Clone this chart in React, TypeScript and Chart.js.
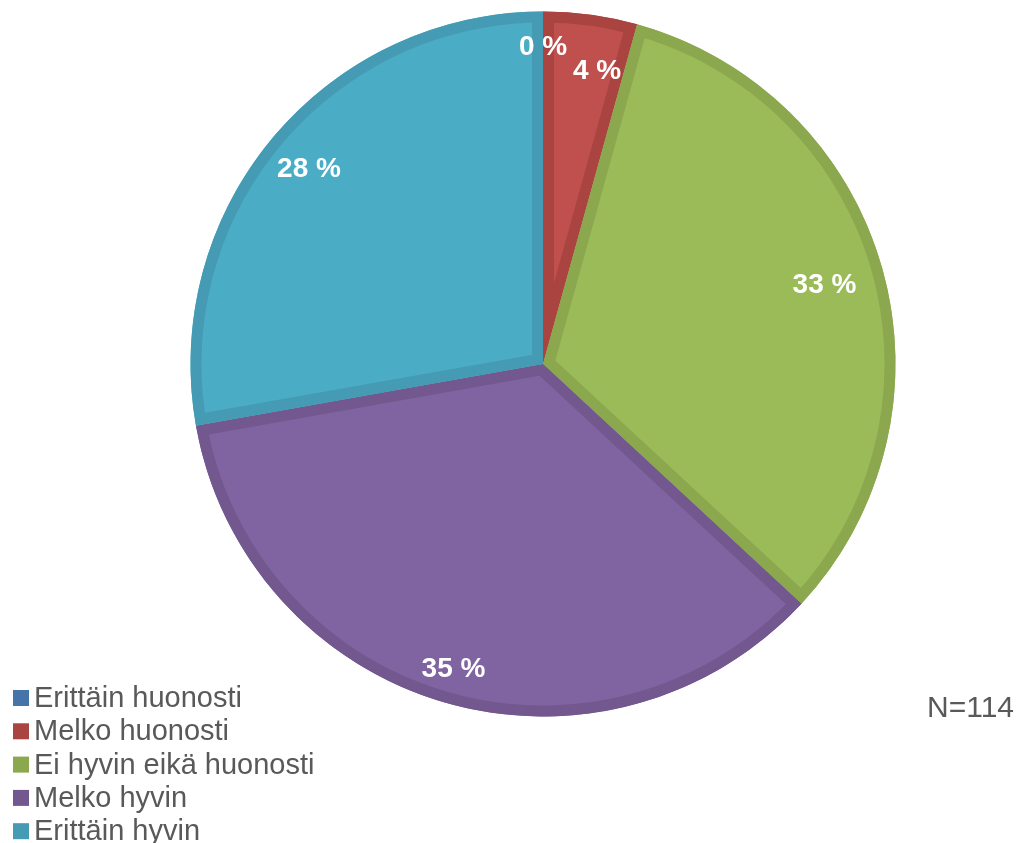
import React, { useEffect, useRef } from "react";
import { Chart, registerables } from "chart.js";

Chart.register(...registerables);

const categories = [
  "Erittäin huonosti",
  "Melko huonosti",
  "Ei hyvin eikä huonosti",
  "Melko hyvin",
  "Erittäin hyvin",
];
const shares = [0, 4.3, 32.6, 35.3, 27.8];
const sampleNote = "N=114";

const fillColors = ["#4F81BD", "#C0504D", "#9BBB59", "#8064A2", "#4BACC6"];
const edgeColors = ["#4673A8", "#AA4441", "#8BA84F", "#72588F", "#449BB3"];
const labelRadiusFactor = [0.9, 0.847, 0.83, 0.9, 0.866];
const labelAngleNudgeDeg = [0, 2.7, 0, 0, 0];

const FONT = '"Liberation Sans", Arial, sans-serif';
const W = 1023;
const H = 843;
const CX = 543;
const CY = 364;
const R = 352.5;
const BW = 11;

const innerBorders = {
  id: "innerBorders",
  afterDatasetsDraw(chart: any) {
    const ctx = chart.ctx;
    const meta = chart.getDatasetMeta(0);
    meta.data.forEach((arc: any, i: number) => {
      const p = arc.getProps(["x", "y", "startAngle", "endAngle", "outerRadius"], true);
      if (p.endAngle - p.startAngle <= 0.0001) return;
      ctx.save();
      ctx.beginPath();
      ctx.moveTo(p.x, p.y);
      ctx.arc(p.x, p.y, p.outerRadius, p.startAngle, p.endAngle);
      ctx.closePath();
      ctx.clip();
      ctx.lineWidth = BW * 2;
      ctx.lineJoin = "miter";
      ctx.miterLimit = 20;
      ctx.strokeStyle = edgeColors[i];
      ctx.stroke();
      ctx.restore();
    });
  },
};

const overlay = {
  id: "overlay",
  afterDraw(chart: any) {
    const ctx = chart.ctx;
    const meta = chart.getDatasetMeta(0);
    const total = shares.reduce((a, b) => a + b, 0);
    ctx.save();
    ctx.fillStyle = "#FFFFFF";
    ctx.font = `bold 28px ${FONT}`;
    ctx.textAlign = "center";
    ctx.textBaseline = "middle";
    meta.data.forEach((arc: any, i: number) => {
      const p = arc.getProps(["x", "y", "startAngle", "endAngle", "outerRadius"], true);
      const mid = (p.startAngle + p.endAngle) / 2 + (labelAngleNudgeDeg[i] * Math.PI) / 180;
      const r = p.outerRadius * labelRadiusFactor[i];
      const x = p.x + Math.cos(mid) * r;
      const y = p.y + Math.sin(mid) * r;
      const pct = Math.round((shares[i] / total) * 100);
      ctx.fillText(`${pct} %`, x, y + 1);
    });

    // legend
    ctx.font = `29px ${FONT}`;
    ctx.textAlign = "left";
    ctx.textBaseline = "alphabetic";
    categories.forEach((c, i) => {
      const base = 707 + i * 33.3;
      ctx.fillStyle = edgeColors[i];
      ctx.fillRect(13, base - 17, 16, 16);
      ctx.fillStyle = "#595959";
      ctx.fillText(c, 34, base);
    });

    ctx.font = `30px ${FONT}`;
    ctx.textAlign = "right";
    ctx.fillStyle = "#595959";
    ctx.fillText(sampleNote, 1014, 717);
    ctx.restore();
  },
};

export default function App() {
  const ref = useRef<HTMLCanvasElement | null>(null);
  useEffect(() => {
    if (!ref.current) return;
    const size = 2 * R;
    const left = CX - size / 2;
    const top = CY - size / 2;
    const chart = new Chart(ref.current, {
      type: "pie",
      data: {
        labels: categories,
        datasets: [
          {
            data: shares,
            backgroundColor: fillColors,
            borderWidth: 0,
          } as any,
        ],
      },
      options: {
        responsive: false,
        maintainAspectRatio: false,
        animation: false,
        layout: {
          padding: {
            left: left,
            top: top,
            right: W - left - size,
            bottom: H - top - size,
          },
        },
        plugins: {
          legend: { display: false },
          tooltip: { enabled: false },
          title: { display: false },
        },
      },
      plugins: [innerBorders, overlay],
    });
    return () => chart.destroy();
  }, []);
  return (
    <div style={{ position: "fixed", left: 0, top: 0, width: W, height: H, background: "#fff" }}>
      <canvas ref={ref} width={W} height={H} style={{ width: W, height: H }} />
    </div>
  );
}
